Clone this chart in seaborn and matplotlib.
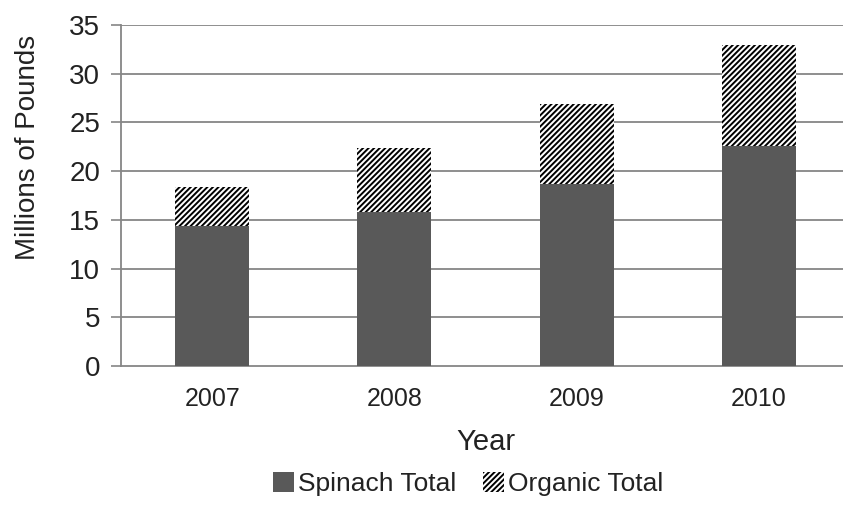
import matplotlib
matplotlib.use("Agg")
import matplotlib.pyplot as plt
import seaborn as sns
import pandas as pd
from matplotlib.patches import Patch

years = ["2007", "2008", "2009", "2010"]
spinach_total = [14.4, 15.85, 18.65, 22.6]
organic_total = [4.0, 6.55, 8.25, 10.35]
y_ticks = [0, 5, 10, 15, 20, 25, 30, 35]

sns.set_theme(style="white")
plt.rcParams["font.family"] = ["Liberation Sans", "DejaVu Sans"]
plt.rcParams["hatch.linewidth"] = 1.4

GRID = "#868686"
DARK = "#595959"
TEXT = "#222222"

df = pd.DataFrame({"Year": years, "Spinach": spinach_total, "Organic": organic_total})
df["Stack"] = df["Spinach"] + df["Organic"]

fig = plt.figure(figsize=(8.43, 5.12), dpi=100)
ax = fig.add_axes([121 / 843, 146 / 512, 729 / 843, 341 / 512])

# full stack drawn hatched, then the spinach part on top of it
sns.barplot(data=df, x="Year", y="Stack", color="white", edgecolor="black",
            linewidth=0, hatch="//////", width=0.405, saturation=1, ax=ax, zorder=3)
sns.barplot(data=df, x="Year", y="Spinach", color=DARK, linewidth=0,
            width=0.405, saturation=1, ax=ax, zorder=4)

ax.set_ylim(0, 35)
ax.set_xlim(-0.5, 3.5)
ax.set_yticks(y_ticks)
ax.set_yticklabels([str(t) for t in y_ticks], fontsize=20, color=TEXT)
ax.set_xticks(range(len(years)))
ax.set_xticklabels(years, fontsize=18, color=TEXT)
ax.set_xticks([-0.5, 0.5, 1.5, 2.5, 3.5], minor=True)
ax.tick_params(axis="x", which="major", length=0, pad=15)
ax.tick_params(axis="x", which="minor", length=7, width=1.2, color=GRID, direction="out")
ax.tick_params(axis="y", length=7, width=1.2, color=GRID, direction="out", left=True, pad=8)

for t in y_ticks[1:]:
    ax.axhline(t, color=GRID, linewidth=1.3, zorder=1)

for side in ["top", "right"]:
    ax.spines[side].set_visible(False)
for side in ["left", "bottom"]:
    ax.spines[side].set_color(GRID)
    ax.spines[side].set_linewidth(1.3)

ax.set_xlabel("Year", fontsize=21, color=TEXT)
ax.xaxis.label.set_va("center")
ax.xaxis.set_label_coords(0.5, (366 - 442) / 341)
ax.set_ylabel("Millions of Pounds", fontsize=20, color=TEXT)
ax.yaxis.label.set_va("center")
ax.yaxis.set_label_coords((28 - 121) / 729, (366 - 147) / 341)

handles = [
    Patch(facecolor=DARK, edgecolor=DARK, linewidth=0, label="Spinach Total"),
    Patch(facecolor="white", edgecolor="black", linewidth=0, hatch="//////", label="Organic Total"),
]
fig.legend(handles=handles, loc="center", bbox_to_anchor=(468 / 843, 1 - 484 / 512),
           ncol=2, frameon=False, fontsize=19, handlelength=0.8, handleheight=0.8,
           handletextpad=0.15, columnspacing=1.0, labelcolor=TEXT)

fig.savefig("out.png", dpi=100)
